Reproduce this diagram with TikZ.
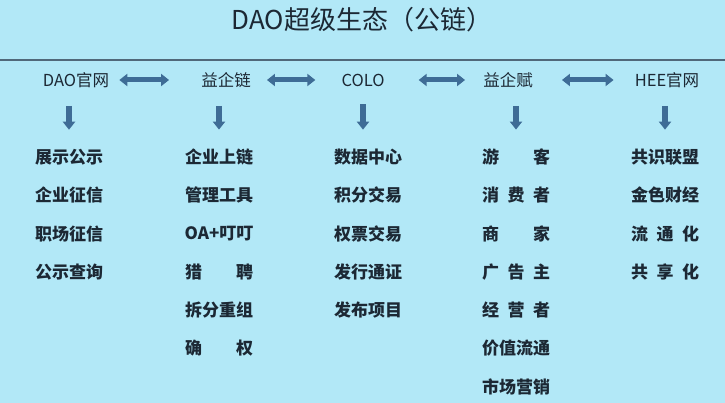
\documentclass[tikz,border=0pt]{standalone}
\usepackage{fontspec}
\setmainfont{Noto Sans CJK SC}
\usepackage{tikz}
\usetikzlibrary{positioning,arrows.meta}

\definecolor{bgcyan}{RGB}{178,232,247}
\definecolor{inkblue}{RGB}{28,40,52}
\definecolor{arrblue}{RGB}{62,108,150}
\definecolor{rulegray}{RGB}{80,104,122}

\newcommand{\spr}[1]{\makebox[4em][s]{#1}}

\begin{document}
\begin{tikzpicture}[
    x=1pt, y=-1pt,
    head/.style={
        inner sep=0pt, text=inkblue,
        font=\fontsize{16.5}{18}\selectfont
    },
    item/.style={
        inner sep=0pt, text=inkblue,
        font=\fontsize{17}{18}\selectfont\bfseries
    },
    dblarr/.style={
        {Triangle[length=8pt,width=12pt]}-{Triangle[length=8pt,width=12pt]},
        line width=5pt, draw=arrblue
    },
    downarr/.style={
        -{Triangle[length=8pt,width=12pt]},
        line width=6pt, draw=arrblue,
        shorten <=18pt, shorten >=19pt
    },
    node distance=38.3pt and 0pt, on grid
]

\fill[bgcyan] (0,0) rectangle (725,403);
\useasboundingbox (0,0) rectangle (725,403);

\node[text=inkblue, inner sep=0pt, font=\fontsize{26}{30}\selectfont] (title) at (362,20) {DAO超级生态（公链）};
\draw[rulegray, line width=2pt] (0,60) -- (725,60);

% top row
\node[head] (dao) at (76,80) {DAO官网};
\node[head] (yql) at (226,80) {益企链};
\node[head] (colo) at (363,80) {COLO};
\node[head] (yqf) at (508,80) {益企赋};
\node[head] (hee) at (667,80) {HEE官网};

\draw[dblarr] ([xshift=10pt]dao.east) -- ([xshift=-32pt]yql.west);
\draw[dblarr] ([xshift=16pt]yql.east) -- ([xshift=-26pt]colo.west);
\draw[dblarr] ([xshift=34pt]colo.east) -- ([xshift=-18pt]yqf.west);
\draw[dblarr] ([xshift=29pt]yqf.east) -- ([xshift=-21pt]hee.west);

% DAO官网
\node[item] (dao1) at (69,157) {展示公示};
\node[item, below=of dao1] (dao2) {企业征信};
\node[item, below=of dao2] (dao3) {职场征信};
\node[item, below=of dao3] (dao4) {公示查询};

% 益企链
\node[item] (yql1) at (219,157) {企业上链};
\node[item, below=of yql1] (yql2) {管理工具};
\node[item, below=of yql2] (yql3) {OA+叮叮};
\node[item, below=of yql3] (yql4) {\spr{猎\hfill 聘}};
\node[item, below=of yql4] (yql5) {拆分重组};
\node[item, below=of yql5] (yql6) {\spr{确\hfill 权}};

% COLO
\node[item] (colo1) at (368,157) {数据中心};
\node[item, below=of colo1] (colo2) {积分交易};
\node[item, below=of colo2] (colo3) {权票交易};
\node[item, below=of colo3] (colo4) {发行通证};
\node[item, below=of colo4] (colo5) {发布项目};

% 益企赋
\node[item] (yqf1) at (516,157) {\spr{游\hfill 客}};
\node[item, below=of yqf1] (yqf2) {\spr{消\hfill 费\hfill 者}};
\node[item, below=of yqf2] (yqf3) {\spr{商\hfill 家}};
\node[item, below=of yqf3] (yqf4) {\spr{广\hfill 告\hfill 主}};
\node[item, below=of yqf4] (yqf5) {\spr{经\hfill 营\hfill 者}};
\node[item, below=of yqf5] (yqf6) {价值流通};
\node[item, below=of yqf6] (yqf7) {市场营销};

% HEE官网
\node[item] (hee1) at (665,157) {共识联盟};
\node[item, below=of hee1] (hee2) {金色财经};
\node[item, below=of hee2] (hee3) {\spr{流\hfill 通\hfill 化}};
\node[item, below=of hee3] (hee4) {\spr{共\hfill 享\hfill 化}};

\draw[downarr] (dao.south -| dao1.north) -- (dao1.north);
\draw[downarr] (yql.south -| yql1.north) -- (yql1.north);
\draw[downarr] (colo.south) -- (colo.south |- colo1.north);
\draw[downarr] (yqf.south -| yqf1.north) -- (yqf1.north);
\draw[downarr] (hee.south -| hee1.north) -- (hee1.north);

\end{tikzpicture}
\end{document}
